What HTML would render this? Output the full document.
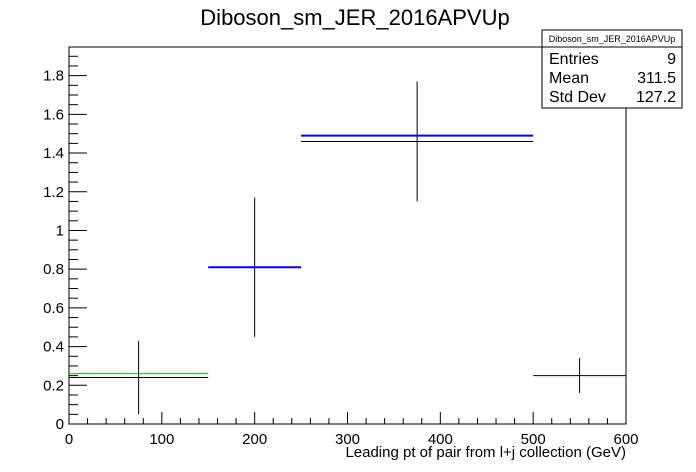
<!DOCTYPE html>
<html><head><meta charset="utf-8"><style>
body{margin:0;background:#fff}
svg{display:block;font-family:"Liberation Sans",Arial,sans-serif}
</style></head><body>
<svg id="c" width="696" height="472" xmlns="http://www.w3.org/2000/svg">
<rect width="696" height="472" fill="#fff"/>
<text x="355" y="25" font-size="22" text-anchor="middle">Diboson_sm_JER_2016APVUp</text>
<rect x="69" y="47" width="557" height="377" fill="none" stroke="#000" stroke-width="1"/>
<g id="axes"></g>
<g id="marks"></g>
<text x="626" y="457" font-size="15" text-anchor="end">Leading pt of pair from l+j collection (GeV)</text>
<g>
<rect x="542" y="30" width="140" height="78" fill="#fff" stroke="#000"/>
<line x1="542" y1="47" x2="682" y2="47" stroke="#000"/>
<text x="612" y="42" font-size="9" text-anchor="middle">Diboson_sm_JER_2016APVUp</text>
<text x="549" y="64" font-size="16">Entries</text><text x="676" y="64" font-size="16" text-anchor="end">9</text>
<text x="549" y="83" font-size="16">Mean</text><text x="676" y="83" font-size="16" text-anchor="end">311.5</text>
<text x="549" y="102" font-size="16">Std Dev</text><text x="676" y="102" font-size="16" text-anchor="end">127.2</text>
</g>
</svg>
<script>
const binLo=[0,150,250,500];
const binHi=[150,250,500,600];
const values=[0.24,0.81,1.46,0.25];
const errors=[0.19,0.36,0.31,0.09];
const blueLo=[150,250];
const blueHi=[250,500];
const blueValues=[0.81,1.49];
const greenLo=[0];
const greenHi=[150];
const greenValues=[0.26];
const xTicks=[0,100,200,300,400,500,600];
const yTicks=[0,0.2,0.4,0.6,0.8,1,1.2,1.4,1.6,1.8];

const X0=69,X1=626,Y0=424,Y1=47,XMAX=600,YMAX=1.948;
const sx=v=>X0+(X1-X0)*v/XMAX;
const sy=v=>Y0-(Y0-Y1)*v/YMAX;
const NS="http://www.w3.org/2000/svg";
function mk(t,a,p){const e=document.createElementNS(NS,t);for(const k in a)e.setAttribute(k,a[k]);p.appendChild(e);return e;}
const ax=document.getElementById('axes'),mg=document.getElementById('marks');
for(let v=0;v<=XMAX+1e-6;v+=20){const big=Math.abs(v%100)<1e-6;
 const l=mk('line',{x1:sx(v),x2:sx(v),y1:Y0,y2:Y0-(big?12:6),stroke:'#000'},ax);
 
 }
xTicks.forEach(v=>{const t=mk('text',{x:sx(v),y:Y0+20,'font-size':15,'text-anchor':'middle'},ax);t.textContent=v;
 
 });
for(let i=0;i*0.05<=YMAX;i++){const v=i*0.05,big=i%4===0;
 const l=mk('line',{x1:X0,x2:X0+(big?18:9),y1:sy(v),y2:sy(v),stroke:'#000'},ax);
 
 }
yTicks.forEach(v=>{const t=mk('text',{x:X0-5,y:sy(v)+5,'font-size':15,'text-anchor':'end'},ax);t.textContent=String(v);
 
 });
greenValues.forEach((v,i)=>{const l=mk('line',{x1:sx(greenLo[i]),x2:sx(greenHi[i]),y1:sy(v),y2:sy(v),stroke:'#00cc00','stroke-width':1},mg);
 
 });
values.forEach((v,i)=>{const c=(binLo[i]+binHi[i])/2;
 const h=mk('line',{x1:sx(binLo[i]),x2:sx(binHi[i]),y1:sy(v),y2:sy(v),stroke:'#000'},mg);
 
 
 const e=mk('line',{x1:sx(c),x2:sx(c),y1:sy(v-errors[i]),y2:sy(v+errors[i]),stroke:'#000'},mg);
 
 });
blueValues.forEach((v,i)=>{const l=mk('line',{x1:sx(blueLo[i]),x2:sx(blueHi[i]),y1:sy(v),y2:sy(v),stroke:'#0000ff','stroke-width':2},mg);
 
 });
</script>
</body></html>
